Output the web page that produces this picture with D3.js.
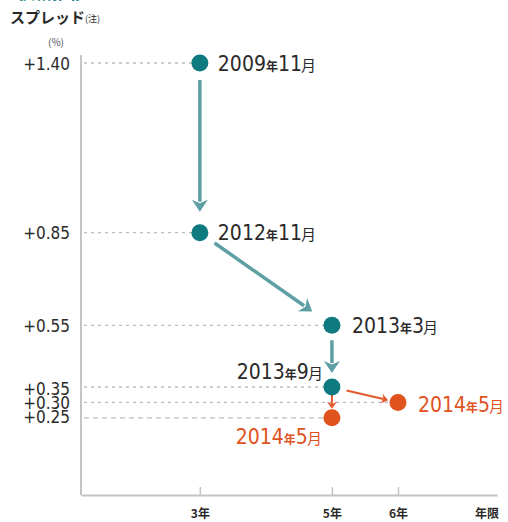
<!DOCTYPE html>
<html>
<head>
<meta charset="utf-8">
<script src="https://cdn.jsdelivr.net/npm/d3@7"></script>
<style>
  html, body { margin: 0; padding: 0; background: #fff; }
  svg { display: block; }
</style>
</head>
<body>
<svg id="chart" width="508" height="522"></svg>
<script>
// Spread by maturity (years) and period
const years = [3, 3, 5, 5, 5, 6];
const spreads = [1.40, 0.85, 0.55, 0.35, 0.25, 0.30];
const periods = ["2009年11月", "2012年11月", "2013年3月", "2013年9月", "2014年5月", "2014年5月"];
const groups = ["past", "past", "past", "past", "new", "new"];
const yTickValues = [1.40, 0.85, 0.55, 0.35, 0.30, 0.25];
const yTickLabels = ["+1.40", "+0.85", "+0.55", "+0.35", "+0.30", "+0.25"];
const xTickValues = [3, 5, 6];
const xTickLabels = ["3年", "5年", "6年"];
// Transitions between points: [from, to]
const arrowFrom = [0, 1, 2, 3, 3];
const arrowTo = [1, 2, 3, 4, 5];

const teal = "#0f7a7f", tealArrow = "#5e9fa3";
const orange = "#e0531f", orangeArrow = "#e2592b";
const textDark = "#2a2a2a";
const numFont = "'Liberation Sans Narrow','DejaVu Sans Condensed','Liberation Sans',sans-serif";
const cjkFont = "'Noto Sans CJK JP','Noto Sans',sans-serif";

const svg = d3.select("#chart");
const x = d3.scaleLinear().domain([1.2, 7.5]).range([81, 497]);
const y = d3.scaleLinear().domain([0, 1.40]).range([495, 63]);

const pts = years.map((yr, i) => ({ yr, v: spreads[i], px: x(yr), py: y(spreads[i]), g: groups[i] }));

// Heading, running off the top edge
svg.append("text").attr("x", 18).attr("y", -1).attr("fill", teal)
  .attr("font-family", cjkFont).attr("font-weight", 700).attr("font-size", 17)
  .text("価格推移");

// Y title
const yt = svg.append("text").attr("x", 10).attr("y", 23).attr("fill", textDark)
  .attr("font-family", cjkFont).attr("font-weight", 700).attr("font-size", 15);
yt.append("tspan").text("スプレッド");
yt.append("tspan").attr("font-size", 9).attr("font-weight", 400).attr("dy", -1).text("(注)");
svg.append("text").attr("x", 56).attr("y", 46).attr("text-anchor", "middle")
  .attr("fill", "#555").attr("font-family", cjkFont).attr("font-size", 10).text("(%)");

// Dashed guide lines from the axis to each point
const guideEnd = { 1.40: 0, 0.85: 1, 0.55: 2, 0.35: 3, 0.30: 5, 0.25: 4 };
svg.append("g").selectAll("line").data(yTickValues).join("line")
  .attr("x1", 84)
  .attr("x2", d => pts[guideEnd[d]].px - 8)
  .attr("y1", d => y(d)).attr("y2", d => y(d))
  .attr("stroke", "#bdbdbd").attr("stroke-width", 1.3)
  .attr("stroke-dasharray", d => d === 0.25 ? "5,4" : "3,4");

// Y axis
const yAxis = d3.axisLeft(y).tickValues(yTickValues).tickSize(0)
  .tickFormat((d, i) => yTickLabels[i]);
const gy = svg.append("g").attr("transform", "translate(81,0)").call(yAxis);
gy.select(".domain").attr("d", "M0,55V495").attr("stroke", "#c4c4c4").attr("stroke-width", 2);
gy.selectAll(".tick text").attr("x", -11).attr("dy", "0.36em")
  .attr("font-family", "'DejaVu Sans Condensed','DejaVu Sans',sans-serif")
  .attr("font-size", 17).attr("fill", textDark);
gy.selectAll(".tick").filter(d => d === 0.35).select("text").attr("dy", "0.42em");
gy.selectAll(".tick").filter(d => d === 0.25).select("text").attr("dy", "0.3em");

// X axis
const xAxis = d3.axisBottom(x).tickValues(xTickValues).tickSize(-8).tickSizeOuter(0)
  .tickFormat((d, i) => xTickLabels[i]);
const gx = svg.append("g").attr("transform", "translate(0,495)").call(xAxis);
gx.select(".domain").attr("stroke", "#c4c4c4").attr("stroke-width", 2);
gx.selectAll(".tick line").attr("stroke", "#c4c4c4").attr("stroke-width", 1.5);
gx.selectAll(".tick text").attr("y", 23).attr("dy", 0)
  .attr("font-family", cjkFont).attr("font-weight", 700).attr("font-size", 12).attr("fill", textDark);
svg.append("text").attr("x", 487).attr("y", 518).attr("text-anchor", "middle")
  .attr("font-family", cjkFont).attr("font-weight", 700).attr("font-size", 12).attr("fill", textDark)
  .text("年限");

// Arrows between periods
const arrowPad = [[17, 21], [18, 24], [15, 14], [7, 9], [15, 10]];
const ag = svg.append("g");
arrowFrom.forEach((f, i) => {
  const a = pts[f], b = pts[arrowTo[i]];
  const dx = b.px - a.px, dy = b.py - a.py, len = Math.hypot(dx, dy);
  const ux = dx / len, uy = dy / len;
  const small = i >= 3;
  const col = small ? orangeArrow : tealArrow;
  const sx = a.px + ux * arrowPad[i][0], sy = a.py + uy * arrowPad[i][0];
  const tx = b.px - ux * arrowPad[i][1], ty = b.py - uy * arrowPad[i][1];
  const hl = small ? 7 : 12, hw = small ? 5 : 8, sw = small ? 2 : 3.5;
  const bx = tx - ux * hl, by = ty - uy * hl;
  ag.append("line").attr("x1", sx).attr("y1", sy).attr("x2", bx + ux * 2).attr("y2", by + uy * 2)
    .attr("stroke", col).attr("stroke-width", sw);
  const px = -uy, py = ux;
  ag.append("path")
    .attr("d", `M${tx},${ty}L${bx + px * hw},${by + py * hw}L${bx + ux * hl * 0.3},${by + uy * hl * 0.3}L${bx - px * hw},${by - py * hw}Z`)
    .attr("fill", col);
});

// Points
svg.append("g").selectAll("circle").data(pts).join("circle")
  .attr("cx", d => d.px).attr("cy", d => d.py).attr("r", 8.5)
  .attr("fill", d => d.g === "past" ? teal : orange);

// Period labels
const labelPos = [
  { dx: 18, dy: 0, anchor: "start" },
  { dx: 18, dy: 0, anchor: "start" },
  { dx: 20, dy: 0, anchor: "start" },
  { dx: -9, dy: -16, anchor: "end" },
  { dx: -10, dy: 19, anchor: "end" },
  { dx: 20, dy: 2, anchor: "start" }
];
const lg = svg.append("g");
pts.forEach((p, i) => {
  const lp = labelPos[i];
  const t = lg.append("text").attr("x", p.px + lp.dx).attr("y", p.py + lp.dy).attr("dy", "0.36em")
    .attr("text-anchor", lp.anchor)
    .attr("fill", p.g === "past" ? textDark : orange)
    .attr("font-family", numFont).attr("font-size", 21);
  const parts = periods[i].match(/\d+|年|月/g);
  parts.forEach(s => {
    const ts = t.append("tspan").text(s);
    if (s === "年") ts.attr("font-family", cjkFont).attr("font-size", 12).attr("font-weight", 700);
    if (s === "月") ts.attr("font-family", cjkFont).attr("font-size", 15).attr("dx", -1);
  });
});
</script>
</body>
</html>
